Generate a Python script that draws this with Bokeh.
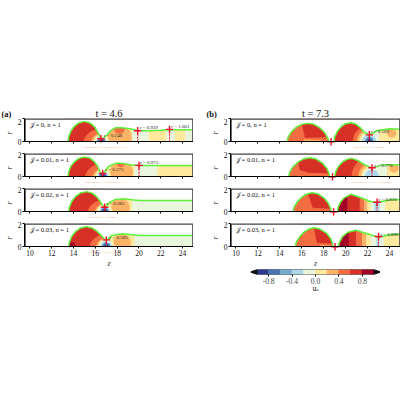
from bokeh.plotting import figure
from bokeh.layouts import column, row
from bokeh.models import FixedTicker, Range1d, LinearAxis
from bokeh.embed import file_html
from bokeh.resources import INLINE

# colour bands for u_z from -1 to 1 in steps of 0.2
u_edges = [-1.0, -0.8, -0.6, -0.4, -0.2, 0.0, 0.2, 0.4, 0.6, 0.8, 1.0]
u_colors = ["#2b3990", "#4575b4", "#74add1", "#abd9e9", "#e9f5dc",
            "#fee99d", "#fdb365", "#f46d43", "#d73027", "#a50026"]
u_ticks = [-0.8, -0.4, 0.0, 0.4, 0.8]
z_ticks = [10, 12, 14, 16, 18, 20, 22, 24]
r_ticks = [0, 2]

def col(u):
    return u_colors[min(9, int((u + 1) / 0.2))]

drop_a_left = [13.49, 13.55, 13.75, 14.1, 14.5, 15.0, 15.5, 15.9, 16.2, 16.4]

# interface profiles
a0_z = drop_a_left + [16.51, 16.7, 17.06, 17.4, 17.83, 18.44, 19.2, 19.88, 21.04, 22.0, 22.8, 24.0, 25.0]
a0_r = [0, .4, .9, 1.35, 1.62, 1.75, 1.62, 1.3, .85, .45, .22, .3, .58, .95, 1.2, 1.2, 1.12, .97, .94, .98, 1.03, 1.03, 1.03]
a1_z = drop_a_left + [16.5, 16.67, 16.85, 17.2, 17.83, 18.44, 19.2, 20.0, 25.0]
a1_r = [0, .4, .9, 1.3, 1.58, 1.7, 1.6, 1.3, .9, .5, .33, .27, .42, .88, 1.15, 1.15, 1.03, .97, .97]
a2_z = [13.55, 13.62, 13.85, 14.2, 14.65, 15.2, 15.7, 16.1, 16.4, 16.65, 16.85, 17.0, 17.2, 17.83, 18.6, 19.36, 20.1, 25.0]
a2_r = [0, .4, .9, 1.32, 1.62, 1.73, 1.6, 1.3, .95, .55, .36, .48, .73, 1.06, 1.12, 1.03, .97, .97]
a3_z = [13.55, 13.62, 13.85, 14.2, 14.65, 15.17, 15.7, 16.15, 16.5, 16.8, 17.0, 17.2, 17.52, 18.44, 19.2, 20.1, 25.0]
a3_r = [0, .4, .9, 1.32, 1.62, 1.73, 1.62, 1.32, 1.0, .68, .52, .72, .97, 1.12, 1.05, .97, .97]
b0_z = [14.66, 14.75, 15.05, 15.5, 16.0, 16.55, 17.1, 17.65, 18.1, 18.4, 18.48, 18.94, 19.0, 19.25, 19.6, 20.0, 20.47, 20.95, 21.35, 21.7, 22.16, 22.5, 22.9, 24.0, 25.0]
b0_r = [0, .4, .85, 1.25, 1.5, 1.58, 1.5, 1.2, .75, .25, 0, 0, .4, .9, 1.3, 1.55, 1.64, 1.5, 1.2, .82, .58, .75, .97, 1.12, 1.06]
b1_z = [14.8, 14.9, 15.2, 15.65, 16.15, 16.74, 17.3, 17.85, 18.25, 18.5, 18.54, 19.0, 19.08, 19.35, 19.7, 20.1, 20.54, 21.1, 21.7, 22.4, 22.8, 23.2, 25.0]
b1_r = [0, .4, .85, 1.25, 1.52, 1.64, 1.52, 1.2, .75, .25, 0, 0, .4, .9, 1.25, 1.48, 1.58, 1.4, 1.03, .76, .85, 1.0, 1.03]
b2_z = [15.2, 15.3, 15.6, 16.0, 16.45, 16.95, 17.5, 18.0, 18.4, 18.64, 18.68, 19.25, 19.32, 19.55, 19.9, 20.47, 21.4, 22.2, 22.86, 23.5, 24.15, 25.0]
b2_r = [0, .4, .85, 1.25, 1.52, 1.64, 1.52, 1.2, .75, .25, 0, 0, .4, .85, 1.22, 1.5, 1.2, .9, .79, .92, 1.03, 1.06]
b3_z = [15.42, 15.5, 15.8, 16.2, 16.65, 17.1, 17.65, 18.2, 18.6, 18.8, 18.85, 19.34, 19.42, 19.7, 20.2, 20.93, 22.0, 23.0, 23.5, 24.15, 25.0]
b3_r = [0, .4, .85, 1.25, 1.52, 1.64, 1.52, 1.2, .75, .25, 0, 0, .35, .85, 1.25, 1.42, 1.12, .82, .92, 1.06, 1.09]

# contour regions in painting order: ("b",u,z0,z1) band, ("d",u,z,r,radius) disc, ("p",u,zs,rs) polygon
a0_regions = [("b", .7, 13, 17), ("d", .5, 16.3, -.3, 1.43), ("d", .3, 16.5, -.2, .95),
              ("b", .1, 16.55, 19.36), ("b", -.1, 19.36, 20.9), ("b", .1, 20.9, 22.5), ("b", -.1, 22.5, 23.3),
              ("b", .1, 23.3, 24.25), ("b", -.1, 24.25, 25), ("d", .3, 18.25, .35, 1.1), ("d", .5, 18.2, 1.15, .5),
              ("d", .1, 16.55, 0, .7), ("d", -.1, 16.55, 0, .58), ("d", -.3, 16.55, 0, .46),
              ("d", -.7, 16.55, 0, .33), ("d", -.9, 16.55, 0, .18)]
a1_regions = [("b", .7, 13, 17), ("d", .5, 16.45, -.3, 1.45), ("d", .3, 16.65, -.2, .95),
              ("b", .1, 16.7, 19.6), ("b", -.1, 19.6, 21.7), ("b", .1, 21.7, 25),
              ("d", .3, 18.4, .4, 1.05), ("d", .5, 18.35, 1.15, .35),
              ("d", .1, 16.7, 0, .72), ("d", -.1, 16.7, 0, .6), ("d", -.3, 16.7, 0, .47),
              ("d", -.7, 16.7, 0, .33), ("d", -.9, 16.7, 0, .17)]
a2_regions = [("b", .7, 13, 17), ("d", .5, 16.6, -.3, 1.35), ("d", .3, 16.85, -.2, .95),
              ("b", .1, 16.9, 19.4), ("b", -.1, 19.4, 25), ("d", .3, 18.3, .35, .85),
              ("d", .1, 16.85, 0, .72), ("d", -.1, 16.85, 0, .6), ("d", -.3, 16.85, 0, .47),
              ("d", -.7, 16.85, 0, .33), ("d", -.9, 16.85, 0, .17)]
a3_regions = [("b", .7, 13, 17.1), ("d", .9, 13.85, .12, .28), ("d", .5, 16.8, -.3, 1.4), ("d", .3, 17.0, -.2, .98),
              ("b", .1, 17.05, 19.6), ("b", -.1, 19.6, 25), ("d", .3, 18.45, .35, .8),
              ("d", .1, 17.0, 0, .76), ("d", -.1, 17.0, 0, .63), ("d", -.3, 17.0, 0, .5),
              ("d", -.7, 17.0, 0, .35), ("d", -.9, 17.0, 0, .18)]
b0_regions = [("b", .5, 14, 18.7), ("p", .7, [15.9, 18.7, 18.7, 16.3], [2, 2, .4, .35]),
              ("p", .3, [16.2, 17.8, 17.8, 16.2], [0, 0, .12, .18]),
              ("b", .7, 18.8, 23), ("d", .5, 22.16, 0, 1.5), ("d", .3, 22.16, 0, 1.15),
              ("d", .1, 22.16, 0, .95), ("d", -.1, 22.16, 0, .8),
              ("b", -.1, 22.16, 23.1), ("b", .1, 23.1, 25), ("d", .3, 24.2, .75, .42),
              ("d", -.3, 22.16, 0, .65), ("d", -.5, 22.16, 0, .42), ("d", -.7, 22.16, .1, .28), ("d", -.9, 22.16, .1, .12)]
b1_regions = [("b", .5, 14, 18.8), ("p", .7, [15.6, 18.8, 18.8, 16.6, 15.8], [2, 2, .3, .35, .6]),
              ("b", .7, 18.9, 23), ("d", .5, 22.4, 0, 1.85), ("d", .3, 22.4, 0, 1.25),
              ("d", .1, 22.4, 0, 1.0), ("d", -.1, 22.4, 0, .85), ("b", -.1, 22.4, 23.8), ("b", .1, 23.8, 25),
              ("d", .3, 24.4, .75, .42), ("d", -.3, 22.4, 0, .65)]
b2_regions = [("b", .5, 15, 18.8), ("p", .7, [16.4, 18.9, 18.9, 17.0], [2, 2, .25, .35]),
              ("b", .9, 19, 20.2), ("b", .7, 20.2, 21.3), ("b", .5, 21.3, 21.7), ("b", .3, 21.7, 22.0),
              ("b", .1, 22.0, 22.3), ("b", -.1, 22.3, 22.6), ("b", -.3, 22.6, 23.1), ("b", -.1, 23.1, 23.6),
              ("b", .1, 23.6, 25)]
b3_regions = [("b", .5, 15, 19), ("p", .7, [17.0, 18.95, 18.95, 17.4], [2, 2, .25, .35]),
              ("p", .3, [17.7, 18.5, 18.5, 17.7], [0, 0, .1, .15]),
              ("b", .9, 19.2, 20.3), ("b", .7, 20.3, 21.0), ("b", .5, 21.0, 21.5), ("b", .3, 21.5, 21.9),
              ("b", .1, 21.9, 22.3), ("b", -.1, 22.3, 22.8), ("b", -.3, 22.8, 23.1), ("b", -.1, 23.1, 23.5),
              ("b", .1, 23.5, 25)]

# necks: marker z, marker r, printed text, text z, text r
a0_marks = [(16.51, .248, "r = 0.248", 16.8, .52), (19.88, .939, "r = 0.939", 20.06, 1.24), (22.8, 1.061, "r = 1.061", 22.97, 1.33)]
a1_marks = [(16.67, .273, "r = 0.273", 16.9, .58), (20.0, .975, "r = 0.975", 20.1, 1.21)]
a2_marks = [(16.85, .385, "r = 0.385", 17.0, .73)]
a3_marks = [(17.0, .585, "r = 0.585", 17.3, .8)]
b0_marks = [(18.67, 0, None, 0, 0), (22.16, .589, "r = 0.589", 22.3, .88)]
b1_marks = [(18.8, 0, None, 0, 0), (22.4, .770, "r = 0.770", 22.6, 1.0)]
b2_marks = [(18.9, 0, None, 0, 0), (22.86, .820, "r = 0.820", 23.0, 1.03)]
b3_marks = [(19.03, 0, None, 0, 0), (23.0, .880, "r = 0.880", 23.15, 1.06)]

case_labels = ["\U0001D4A5 = 0, n = 1", "\U0001D4A5 = 0.01, n = 1", "\U0001D4A5 = 0.02, n = 1", "\U0001D4A5 = 0.03, n = 1"]
panel_tags = ["(a)", "(b)"]
panel_times = ["t = 4.6", "t = 7.3"]

SERIF = "Liberation Serif"
GREEN = "#5ef03a"
RED = "#f01030"

def panel(zs, rs, regions, marks, case, left, first, last):
    p = figure(frame_width=170 if left >= 30 else 169, frame_height=29,
               x_range=Range1d(9.5, 25), y_range=Range1d(-.5, 2),
               output_backend="svg", toolbar_location=None,
               min_border_left=left, min_border_right=0, min_border_top=0 if first else 2, min_border_bottom=4)
    p.grid.visible = False
    p.outline_line_color = None
    p.xaxis.ticker = FixedTicker(ticks=z_ticks)
    p.yaxis.ticker = FixedTicker(ticks=r_ticks)
    p.xaxis.fixed_location = 0
    p.yaxis.bounds = (0, 2)
    p.xaxis.minor_tick_line_color = None
    p.yaxis.minor_tick_line_color = None
    p.xaxis.major_label_overrides = {t: "" for t in z_ticks}
    for ax in (p.xaxis[0], p.yaxis[0]):
        ax.major_tick_in = 0
        ax.major_tick_out = 2
        ax.major_label_text_font = SERIF
        ax.major_label_text_font_size = "7.5px"
        ax.major_label_text_color = "#111111"
        ax.major_label_standoff = 1
        ax.axis_label_text_font = SERIF
        ax.axis_label_text_font_size = "8px"
        ax.axis_label_text_font_style = "italic"
        ax.axis_label_standoff = 1
    p.yaxis.axis_label = "r"
    if last:
        lab = LinearAxis(ticker=FixedTicker(ticks=z_ticks), axis_label="z",
                         axis_line_color=None, major_tick_line_color=None, minor_tick_line_color=None,
                         major_tick_in=0, major_tick_out=0,
                         major_label_text_font=SERIF, major_label_text_font_size="7.5px",
                         major_label_text_color="#111111", major_label_standoff=-3,
                         axis_label_text_font=SERIF, axis_label_text_font_size="8px",
                         axis_label_text_font_style="italic", axis_label_standoff=0)
        p.add_layout(lab, "below")
    for reg in regions:
        kind, u = reg[0], reg[1]
        c = col(u)
        if kind == "b":
            p.quad(left=reg[2], right=reg[3], bottom=0, top=2, color=c, line_color=c, line_width=0.2)
        elif kind == "d":
            p.circle(x=reg[2], y=reg[3], radius=reg[4], color=c, line_color=c, line_width=0.2)
        else:
            p.patch(reg[2], reg[3], color=c, line_color=c, line_width=0.2)
    p.patch([9.5] + zs + [25, 9.5], [0] + rs + [2.2, 2.2], color="white", line_color=None)
    p.quad(left=9, right=26, bottom=-1.5, top=0, color="white", line_color=None)
    p.line(zs, rs, line_color=GREEN, line_width=1.5)
    p.line([9.5, 9.5, 25, 25], [0, 2, 2, 0], line_color="#444444", line_width=2.6)
    for mz, mr, txt, tz, tr in marks:
        if mr > 0:
            p.line([mz, mz], [0, mr], line_color=RED, line_width=1.0, line_dash=[2, 1])
        p.scatter([mz], [mr], marker="cross", size=7.5, line_color=RED, line_width=1.4)
        if txt:
            p.text([tz], [tr], text=[txt], text_font=SERIF, text_font_size="5px",
                   text_baseline="middle", text_color="#222222")
    p.text([10.0], [1.45], text=[case], text_font=SERIF, text_font_size="6.5px",
           text_baseline="middle", text_color="#111111")
    return p

a_sets = [(a0_z, a0_r, a0_regions, a0_marks), (a1_z, a1_r, a1_regions, a1_marks),
          (a2_z, a2_r, a2_regions, a2_marks), (a3_z, a3_r, a3_regions, a3_marks)]
b_sets = [(b0_z, b0_r, b0_regions, b0_marks), (b1_z, b1_r, b1_regions, b1_marks),
          (b2_z, b2_r, b2_regions, b2_marks), (b3_z, b3_r, b3_regions, b3_marks)]

left_col = column(*[panel(s[0], s[1], s[2], s[3], case_labels[i], 24, i == 0, i == 3) for i, s in enumerate(a_sets)])
right_col = column(*[panel(s[0], s[1], s[2], s[3], case_labels[i], 37, i == 0, i == 3) for i, s in enumerate(b_sets)])

def strip(height, margin=(0, 0, 0, 0)):
    s = figure(frame_width=400, frame_height=height, x_range=Range1d(0, 400), y_range=Range1d(0, height),
               output_backend="svg", toolbar_location=None, min_border=0, margin=margin)
    s.grid.visible = False
    s.outline_line_color = None
    s.background_fill_color = None
    s.border_fill_color = None
    s.axis.visible = False
    return s

header = strip(16)
header.text([1, 206], [5, 5], text=panel_tags, text_font=SERIF, text_font_size="8.5px",
            text_font_style="bold", text_baseline="middle", text_color="#111111")
header.text([108.5, 315], [5, 5], text=panel_times, text_font=SERIF, text_font_size="10.5px",
            text_align="center", text_baseline="middle", text_color="#111111")

cb = figure(frame_width=130, frame_height=5, x_range=Range1d(-1.11, 1.11), y_range=Range1d(0, 1),
            output_backend="svg", toolbar_location=None,
            min_border_left=0, min_border_right=0, min_border_top=1, min_border_bottom=8, margin=(-2, 0, 0, 250))
cb.grid.visible = False
cb.outline_line_color = None
cb.yaxis.visible = False
cb.quad(left=u_edges[:-1], right=u_edges[1:], bottom=0, top=1, color=u_colors)
cb.patch([-1.11, -1, -1], [.5, 0, 1], color="#111111")
cb.patch([1.11, 1, 1], [.5, 0, 1], color="#111111")
cb.line([-1, 1], [1, 1], line_color="#444444", line_width=1.2)
cb.line([-1, 1], [0, 0], line_color="#444444", line_width=1.0)
cb.xaxis.ticker = FixedTicker(ticks=u_ticks)
cb.xaxis.axis_line_color = None
cb.xaxis.minor_tick_line_color = None
cb.xaxis.major_tick_in = 0
cb.xaxis.major_tick_out = 2
cb.xaxis.major_label_text_font = SERIF
cb.xaxis.major_label_text_font_size = "7.5px"
cb.xaxis.major_label_standoff = 1
cb.xaxis.major_label_overrides = {t: ("%.1f" % t) for t in u_ticks}

footer = strip(14, margin=(-3, 0, 0, 0))
footer.text([312], [9.2], text=["u"], text_font=SERIF, text_font_size="8px", text_baseline="middle", text_color="#111111")
footer.text([316], [7.7], text=["z"], text_font=SERIF, text_font_size="5px", text_baseline="middle", text_color="#111111")

root = column(header, row(left_col, right_col), cb, footer, margin=(102, 0, 0, 0))
open("out.html", "w").write(file_html(root, INLINE))
